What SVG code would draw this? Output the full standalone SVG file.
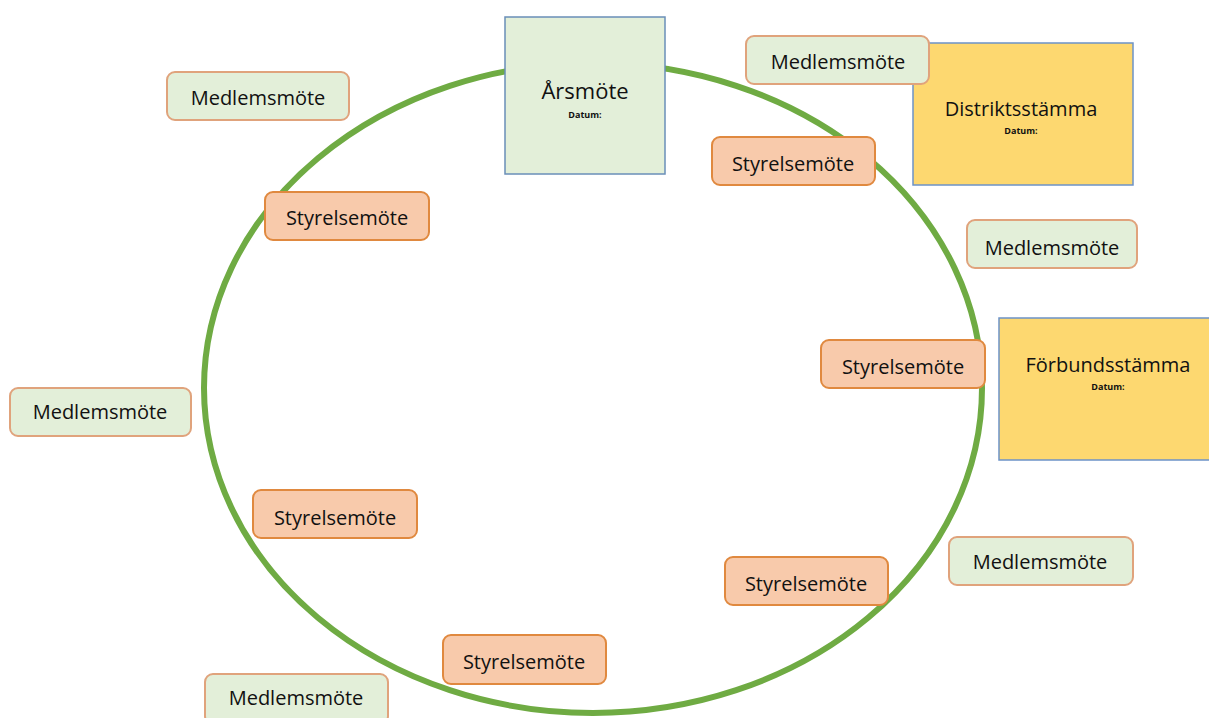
<svg xmlns="http://www.w3.org/2000/svg" width="1209" height="718" viewBox="0 0 1209 718">
<style>
text{font-family:"Open Sans","Liberation Sans",sans-serif;fill:#111111;text-anchor:middle}
.lbl{font-size:20px}
.big{font-size:22px}
.dat{font-size:9px;font-weight:bold}
.med rect{fill:#e3efd9;stroke:#e0a37c;stroke-width:2}
.sty rect{fill:#f8caab;stroke:#e0893f;stroke-width:2}
.yel{fill:#fdd870;stroke:#6c93c8;stroke-width:1.5}
.ars{fill:#e3efd9;stroke:#6a8fb8;stroke-width:1.5}
</style>
<rect width="1209" height="718" fill="#ffffff"/>
<g id="connectors">
<ellipse cx="593" cy="388" rx="389" ry="325" fill="none" stroke="#6fab43" stroke-width="6"/>
</g>
<g id="arsmote"><rect class="ars" x="505" y="17" width="160" height="157"/><text class="big" x="585" y="99">Årsmöte</text><text class="dat" x="585" y="118">Datum:</text></g>
<g id="distriktsstamma"><rect class="yel" x="913" y="43" width="220" height="142"/><text class="lbl" x="1021" y="116">Distriktsstämma</text><text class="dat" x="1021" y="134">Datum:</text></g>
<g id="forbundsstamma"><rect class="yel" x="999" y="318" width="212" height="142"/><text class="lbl" x="1108" y="372">Förbundsstämma</text><text class="dat" x="1108" y="390">Datum:</text></g>
<g id="medlem1" class="med"><rect x="167" y="72" width="182" height="48" rx="8"/><text class="lbl" x="258" y="105">Medlemsmöte</text></g>
<g id="medlem2" class="med"><rect x="746" y="36" width="183" height="48" rx="8"/><text class="lbl" x="838" y="69">Medlemsmöte</text></g>
<g id="medlem3" class="med"><rect x="967" y="220" width="170" height="48" rx="8"/><text class="lbl" x="1052" y="255">Medlemsmöte</text></g>
<g id="medlem4" class="med"><rect x="10" y="388" width="181" height="48" rx="8"/><text class="lbl" x="100" y="419">Medlemsmöte</text></g>
<g id="medlem5" class="med"><rect x="949" y="537" width="184" height="48" rx="8"/><text class="lbl" x="1040" y="569">Medlemsmöte</text></g>
<g id="medlem6" class="med"><rect x="205" y="674" width="183" height="50" rx="8"/><text class="lbl" x="296" y="705">Medlemsmöte</text></g>
<g id="styrelse1" class="sty"><rect x="712" y="137" width="163" height="48" rx="8"/><text class="lbl" x="793" y="171">Styrelsemöte</text></g>
<g id="styrelse2" class="sty"><rect x="265" y="192" width="164" height="48" rx="8"/><text class="lbl" x="347" y="225">Styrelsemöte</text></g>
<g id="styrelse3" class="sty"><rect x="821" y="340" width="164" height="48" rx="8"/><text class="lbl" x="903" y="374">Styrelsemöte</text></g>
<g id="styrelse4" class="sty"><rect x="253" y="490" width="164" height="48" rx="8"/><text class="lbl" x="335" y="525">Styrelsemöte</text></g>
<g id="styrelse5" class="sty"><rect x="725" y="557" width="163" height="48" rx="8"/><text class="lbl" x="806" y="591">Styrelsemöte</text></g>
<g id="styrelse6" class="sty"><rect x="443" y="635" width="163" height="49" rx="8"/><text class="lbl" x="524" y="669">Styrelsemöte</text></g>
</svg>
